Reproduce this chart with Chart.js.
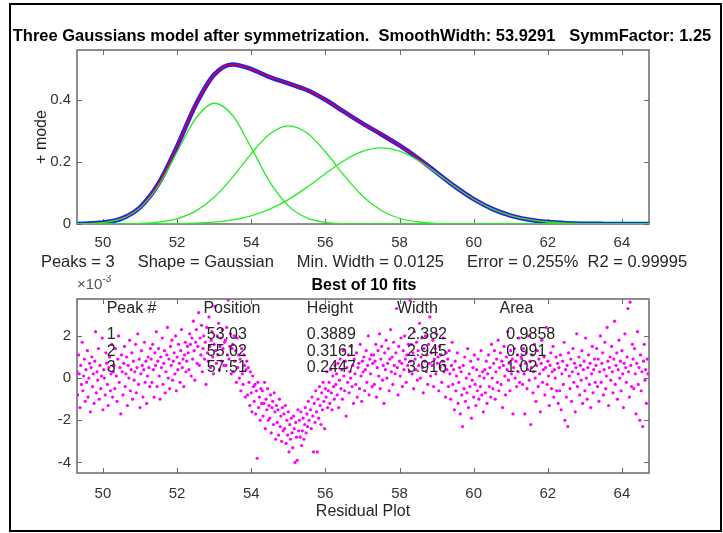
<!DOCTYPE html>
<html>
<head>
<meta charset="utf-8">
<title>Three Gaussians model</title>
<script src="https://cdn.jsdelivr.net/npm/chart.js@4.4.1/dist/chart.umd.min.js"></script>
<style>
  body { margin: 0; background: #fff; }
  #wrap { position: relative; width: 723px; height: 533px; overflow: hidden; }
  #topChart { position: absolute; left: 0; top: 0; }
  #resChart { position: absolute; left: 0; top: 275px; }
  #frame { position: absolute; left: 9px; top: 3px; width: 713px; height: 529px;
           border: 2px solid #000; box-sizing: border-box; pointer-events: none; }
</style>
</head>
<body>
<div id="wrap">
  <canvas id="topChart" width="723" height="275"></canvas>
  <canvas id="resChart" width="723" height="258"></canvas>
  <div id="frame"></div>
</div>
<script>
// ---- data ----
const mainTitle = "Three Gaussians model after symmetrization.  SmoothWidth: 53.9291   SymmFactor: 1.25";
const fitSummary = "Peaks = 3     Shape = Gaussian     Min. Width = 0.0125     Error = 0.255%  R2 = 0.99995";
const resTitle = "Best of 10 fits";

const xTicks = [50, 52, 54, 56, 58, 60, 62, 64];
const yTicksTop = [0, 0.2, 0.4];
const yTicksRes = [-4, -2, 0, 2];   // x 10^-3

// sample grid for the model curves
const xGrid = [49, 49.5, 50, 50.5, 51, 51.5, 52, 52.5, 53, 53.5, 54, 54.5, 55, 55.5, 56, 56.5,
  57, 57.5, 58, 58.5, 59, 59.5, 60, 60.5, 61, 61.5, 62, 62.5, 63, 63.5, 64, 64.5, 65];

const peak1 = [0.0001, 0.0009, 0.0044, 0.017, 0.0519, 0.1239, 0.2316, 0.339, 0.3887, 0.3491, 0.2456,
  0.1353, 0.0584, 0.0197, 0.0052, 0.0011, 0.0002, 0, 0, 0, 0, 0, 0, 0, 0, 0, 0, 0, 0, 0, 0, 0, 0];
const peak2 = [0, 0, 0.0001, 0.0005, 0.0018, 0.006, 0.0171, 0.0415, 0.0858, 0.151, 0.2267, 0.2899,
  0.3161, 0.2937, 0.2325, 0.1569, 0.0903, 0.0443, 0.0185, 0.0066, 0.002, 0.0005, 0.0001,
  0, 0, 0, 0, 0, 0, 0, 0, 0, 0];
const peak3 = [0, 0, 0, 0, 0.0001, 0.0004, 0.001, 0.0026, 0.0062, 0.0134, 0.0264, 0.0476, 0.0783,
  0.1179, 0.162, 0.2035, 0.2335, 0.2447, 0.2343, 0.205, 0.1638, 0.1196, 0.0798, 0.0486, 0.0271,
  0.0138, 0.0064, 0.0027, 0.0011, 0.0004, 0.0001, 0, 0];
const fitCurve = [0.0001, 0.0009, 0.0045, 0.0175, 0.0538, 0.1303, 0.2497, 0.3831, 0.4807, 0.5135,
  0.4987, 0.4728, 0.4528, 0.4313, 0.3997, 0.3615, 0.324, 0.289, 0.2528, 0.2116, 0.1658, 0.1201,
  0.0799, 0.0486, 0.0271, 0.0138, 0.0064, 0.0027, 0.0011, 0.0004, 0.0001, 0, 0];

// residuals (units of 1e-3), one every 0.02 starting at 49.30
const resStart = 49.3;
const resStep = 0.02;
const residuals = [
  0.3,-0.8,1.1,0.2,-1.4,0.6,-0.3,1.7,-0.6,0.1,0.9,-1.1,0.4,-0.2,1.3,-0.9,0.0,0.7,-1.6,0.5,1.0,-0.4,0.2,-1.2,0.8,2.2,-0.7,0.3,-0.1,1.4,-1.0,0.6,-0.5,0.1,1.9,-1.5,0.4,0.0,-0.8,1.2,0.7,-0.3,-1.3,0.5,1.0,-0.6,0.2,1.6,-0.9,0.3,
  0.6,-0.5,1.4,0.1,-1.1,0.9,2.0,-0.2,0.5,-1.7,1.1,0.3,-0.8,0.7,1.5,-0.4,0.2,1.0,-1.3,0.6,0.0,1.8,-0.6,0.4,1.2,-1.0,0.8,-0.1,0.3,1.6,-0.7,0.5,2.1,-0.3,0.9,-1.4,0.2,1.3,0.6,-0.9,0.4,1.7,-0.2,0.8,-1.2,0.1,1.0,0.5,-0.4,1.4,
  0.9,-0.2,1.6,0.4,-0.9,1.2,0.6,2.2,-0.4,0.8,1.4,0.1,-1.0,1.0,0.5,1.9,-0.3,0.7,1.3,-0.7,0.3,1.1,2.4,0.0,0.9,-0.5,1.5,0.6,1.8,-0.1,0.8,1.2,0.2,2.0,-0.6,1.0,0.4,1.6,0.7,-0.2,1.3,2.3,0.5,0.9,-0.4,1.1,1.7,0.3,0.8,1.5,
  1.2,0.4,2.1,1.6,0.1,1.9,0.9,2.7,1.3,-0.1,1.7,2.3,0.7,1.5,3.1,0.6,1.9,1.1,2.5,0.3,1.4,2.0,0.9,1.7,-0.3,2.4,1.2,0.8,2.9,1.5,0.5,1.8,2.2,1.0,0.2,1.6,3.4,1.3,0.7,2.0,1.1,2.6,0.4,1.5,1.9,0.8,2.3,1.4,0.6,1.7,
  1.8,0.6,2.4,1.1,3.7,0.9,1.5,2.1,0.2,1.4,1.6,0.3,2.0,0.8,1.3,-0.2,1.9,0.5,1.1,0.0,0.9,-0.6,1.4,0.2,-0.3,1.1,0.6,-0.9,0.4,0.8,-0.8,0.5,-0.2,-1.3,0.3,-0.7,-1.6,0.1,-0.4,-1.1,-0.3,-1.7,-0.6,-3.8,-0.2,-1.4,-0.9,-2.0,-0.5,-1.2,
  -0.6,-1.8,-1.2,-0.2,-2.4,-1.0,-1.5,-0.5,-2.0,-1.3,-1.9,-0.8,-2.6,-1.4,-1.1,-2.2,-0.7,-1.6,-2.9,-1.3,-2.1,-1.5,-2.7,-1.0,-2.3,-1.8,-3.0,-1.4,-2.5,-1.7,-2.4,-1.3,-3.1,-2.0,-2.7,-1.6,-3.5,-2.2,-2.9,-1.9,-2.6,-3.3,-1.8,-2.4,-4.0,-2.1,-2.8,-3.9,-1.5,-2.5,
  -2.0,-2.8,-1.6,-3.2,-2.5,-1.9,-2.9,-2.2,-1.4,-2.6,-1.7,-2.3,-1.1,-2.0,-4.6,-1.5,-2.4,-0.9,-1.8,-3.5,-1.2,-2.1,-0.6,-1.6,-3.5,-1.0,-1.9,-0.4,-1.3,-2.2,-0.7,-1.5,-0.2,-1.1,-2.4,-0.5,-0.9,0.3,-1.4,-0.6,-0.2,-1.2,0.4,-0.7,-1.5,0.1,-0.4,-1.0,0.6,-0.3,
  0.2,-0.8,0.7,-1.4,-0.1,0.9,-0.5,0.4,-1.0,1.3,0.1,-0.6,0.8,-1.8,0.5,-0.2,1.1,-0.7,0.3,0.0,1.5,-0.4,0.6,-1.2,0.9,0.2,-0.3,1.2,-0.9,0.5,0.7,-0.5,1.6,0.1,-1.1,0.8,0.3,1.0,-0.6,0.4,1.3,-0.2,0.6,2.0,-0.8,0.9,0.2,1.1,-0.4,0.7,
  1.1,-0.3,0.8,1.6,-0.9,0.5,1.3,0.1,2.1,-0.5,0.9,1.5,-0.1,0.6,-1.2,1.2,0.4,1.8,0.0,0.7,1.4,-0.6,0.9,2.3,0.3,1.0,-0.3,1.7,0.6,0.2,1.2,3.3,0.5,-0.8,1.5,0.8,0.1,1.9,0.7,-0.4,1.3,0.4,2.0,0.9,-0.2,1.1,0.6,1.6,0.3,3.7,
  0.8,1.6,0.2,1.2,-0.5,2.2,0.9,0.4,1.7,-0.1,1.3,0.6,2.6,0.0,1.0,1.9,0.5,-0.7,1.4,0.8,2.0,0.3,1.1,-0.3,1.6,0.7,2.9,0.1,1.2,0.6,1.8,-0.4,0.9,1.4,0.2,2.1,0.7,1.0,-0.6,1.5,0.5,1.1,-0.2,0.8,1.9,0.3,0.6,-0.9,1.2,0.4,
  0.9,-0.4,1.3,0.2,-1.0,0.6,1.7,-0.3,0.4,-1.5,0.8,-0.6,0.1,1.2,-1.2,-0.2,0.5,-1.7,0.3,-0.8,-2.3,0.6,-0.5,1.0,-1.1,0.0,-0.7,1.4,-1.4,0.2,-0.4,0.8,-1.9,-0.1,0.5,-0.9,1.1,-0.3,-1.3,0.4,-0.6,0.9,-1.0,0.1,-0.4,1.3,-0.8,0.3,-1.6,0.0,
  0.4,-0.7,0.8,-1.2,0.2,1.1,-0.4,0.5,-0.9,1.6,0.0,-0.5,0.7,1.3,-1.0,0.3,0.9,-0.2,1.8,-0.6,0.5,1.2,-0.3,0.8,-1.4,0.6,1.5,0.1,-0.8,1.0,0.4,2.2,-0.1,0.7,-0.6,1.3,0.2,0.9,-1.7,0.5,1.4,0.0,0.8,-0.4,1.1,0.3,1.9,-0.2,0.6,1.0,
  0.9,-0.3,1.4,0.2,-1.7,0.7,1.2,-0.5,0.4,2.0,-0.1,0.8,-2.2,0.5,1.1,-0.7,0.3,1.6,0.0,-1.1,0.6,1.3,-0.4,0.9,0.2,-1.6,0.7,1.8,-0.2,0.4,1.0,-0.8,0.5,2.4,-0.3,0.8,0.1,-1.3,0.6,1.2,-0.5,0.3,1.5,-0.9,0.4,0.0,1.0,-0.6,0.7,-1.2,
  0.5,-0.6,1.1,-1.5,0.2,0.8,-0.3,1.7,-2.0,0.4,-0.9,0.6,-2.3,1.2,0.1,-0.5,0.9,-1.1,0.3,1.4,-0.2,0.7,-1.6,0.5,2.1,-0.4,0.2,1.0,-0.8,0.6,-0.1,1.3,-1.2,0.4,0.8,-0.6,1.9,0.0,-1.0,0.5,1.1,-0.3,0.7,-1.4,0.2,1.5,-0.7,0.4,0.9,-0.2,
  0.6,1.4,-0.4,0.9,-1.1,0.3,2.0,-0.2,0.7,1.2,-0.8,0.4,1.7,-0.5,0.1,2.4,0.8,-1.3,0.5,1.0,-0.1,1.5,0.3,-0.7,0.9,2.7,-0.3,0.6,1.2,-1.0,0.4,1.8,0.0,0.8,-0.6,1.3,0.2,-1.4,0.7,2.1,0.5,-0.2,1.0,3.3,0.3,-0.9,3.6,0.6,-0.4,1.6,
  0.9,-0.5,1.4,0.2,-1.7,0.7,2.2,-0.3,0.5,-2.0,1.1,-0.6,0.3,-2.3,0.8,1.6,-0.1,0.4,-1.2,0.9,0.2
];

// table of fitted peaks
const tableHeaders = ["Peak #", "Position", "Height", "Width", "Area"];
const peakNums = ["1", "2", "3"];
const positions = ["53.03", "55.02", "57.51"];
const heights = ["0.3889", "0.3161", "0.2447"];
const widths = ["2.382", "2.945", "3.916"];
const areas = ["0.9858", "0.991", "1.02"];

// ---- styling ----
Chart.defaults.font.family = '"Liberation Sans", Arial, Helvetica, sans-serif';
const axisColor = "#6a6a6a";
const labelColor = "#333333";

function pts(xs, ys) {
  return xs.map((x, i) => ({ x: x, y: ys[i] }));
}

// MATLAB style box with inward ticks
const boxAxes = {
  id: "boxAxes",
  beforeDatasetsDraw(chart) {
    const { ctx, chartArea: a, scales } = chart;
    const x = scales.x, y = scales.y;
    ctx.save();
    ctx.strokeStyle = axisColor;
    ctx.lineWidth = 1;
    ctx.beginPath();
    x.ticks.forEach(t => {
      const px = Math.round(x.getPixelForValue(t.value)) + 0.5;
      ctx.moveTo(px, a.bottom); ctx.lineTo(px, a.bottom - 5);
      ctx.moveTo(px, a.top); ctx.lineTo(px, a.top + 5);
    });
    y.ticks.forEach(t => {
      const py = Math.round(y.getPixelForValue(t.value)) + 0.5;
      ctx.moveTo(a.left, py); ctx.lineTo(a.left + 5, py);
      ctx.moveTo(a.right, py); ctx.lineTo(a.right - 5, py);
    });
    ctx.stroke();
    ctx.lineWidth = 1.5;
    ctx.strokeRect(a.left, a.top, a.right - a.left, a.bottom - a.top);
    ctx.restore();
  }
};

// fit summary line under the top plot (wider than the axes, so drawn by hand)
const summaryLine = {
  id: "summaryLine",
  afterDraw(chart) {
    const { ctx, chartArea: a } = chart;
    ctx.save();
    ctx.font = '16.5px "Liberation Sans", Arial, sans-serif';
    ctx.fillStyle = "#262626";
    ctx.textAlign = "center";
    ctx.textBaseline = "middle";
    ctx.fillText(fitSummary, (a.left + a.right) / 2 + 1, a.bottom + 38);
    ctx.restore();
  }
};

// peak table + exponent label inside residual plot
const tableCols = { head: [50.1, 52.71, 55.5, 57.93, 60.7], vals: [50.1, 52.8, 55.5, 58.2, 60.88] };
const tableRows = { head: 3.3, vals: [2.07, 1.28, 0.49] };
const peakTable = {
  id: "peakTable",
  afterDatasetsDraw(chart) {
    const { ctx, chartArea: a, scales } = chart;
    const x = scales.x, y = scales.y;
    ctx.save();
    ctx.font = '16px "Liberation Sans", Arial, sans-serif';
    ctx.fillStyle = "#262626";
    ctx.textBaseline = "middle";
    ctx.textAlign = "left";
    tableHeaders.forEach((h, i) => {
      ctx.fillText(h, x.getPixelForValue(tableCols.head[i]), y.getPixelForValue(tableRows.head));
    });
    const cols = [peakNums, positions, heights, widths, areas];
    cols.forEach((col, c) => {
      col.forEach((txt, r) => {
        ctx.fillText(txt, x.getPixelForValue(tableCols.vals[c]), y.getPixelForValue(tableRows.vals[r]));
      });
    });
    // x10^-3 exponent
    ctx.fillStyle = "#555";
    ctx.textBaseline = "alphabetic";
    ctx.font = '15px "Liberation Sans", Arial, sans-serif';
    ctx.fillText("\u00d710", a.left, a.top - 10);
    const w = ctx.measureText("\u00d710").width;
    ctx.font = '10px "Liberation Sans", Arial, sans-serif';
    ctx.fillText("-3", a.left + w, a.top - 17);
    ctx.restore();
  }
};

function xScale(titleText, titlePadBottom, height, tickPad) {
  return {
    type: "linear",
    position: "bottom",
    min: 49.3,
    max: 64.73,
    afterBuildTicks: s => { s.ticks = xTicks.map(v => ({ value: v })); },
    afterFit: s => { s.height = height; },
    grid: { display: false, drawTicks: false },
    border: { display: false },
    ticks: { color: labelColor, font: { size: 15 }, padding: tickPad, maxRotation: 0, autoSkip: false },
    title: { display: !!titleText, text: titleText || "", color: "#262626", font: { size: 16 },
             padding: { top: 0, bottom: titlePadBottom } }
  };
}

function spacerAxis() {
  return {
    position: "right",
    display: true,
    grid: { display: false, drawTicks: false },
    border: { display: false },
    ticks: { display: false },
    afterFit: s => { s.width = 74; }
  };
}

// ---- top plot: data, fit and components ----
new Chart(document.getElementById("topChart"), {
  type: "line",
  data: {
    datasets: [
      { data: pts(xGrid, peak1), borderColor: "#22ee22", borderWidth: 1.3, order: 0 },
      { data: pts(xGrid, peak2), borderColor: "#22ee22", borderWidth: 1.3, order: 0 },
      { data: pts(xGrid, peak3), borderColor: "#22ee22", borderWidth: 1.3, order: 0 },
      { data: pts(xGrid, fitCurve), borderColor: "#e0001a", borderWidth: 1.5, order: 1 },
      { data: pts(xGrid, fitCurve), borderColor: "#2020ff", borderWidth: 4.5, order: 2 }
    ]
  },
  options: {
    responsive: false,
    animation: false,
    events: [],
    layout: { padding: { left: 1, right: 0, top: 0, bottom: 0 } },
    elements: {
      point: { radius: 0 },
      line: { cubicInterpolationMode: "monotone", fill: false }
    },
    plugins: {
      legend: { display: false },
      tooltip: { enabled: false },
      title: {
        display: true, text: mainTitle, color: "#000",
        font: { size: 16.5, weight: "bold" },
        padding: { top: 27, bottom: 3.2 }
      }
    },
    scales: {
      x: xScale(null, 0, 51, 9.5),
      y: {
        min: 0, max: 0.56,
        afterBuildTicks: s => { s.ticks = yTicksTop.map(v => ({ value: v })); },
        afterFit: s => { s.width = 76; },
        grid: { display: false, drawTicks: false },
        border: { display: false },
        ticks: { color: labelColor, font: { size: 15 }, padding: 6, callback: v => String(v) },
        title: { display: true, text: "+ mode", color: "#262626", font: { size: 16 },
                 padding: { top: 31, bottom: 0 } }
      },
      yR: spacerAxis()
    }
  },
  plugins: [boxAxes, summaryLine]
});

// ---- residual plot ----
new Chart(document.getElementById("resChart"), {
  type: "scatter",
  data: {
    datasets: [{
      data: residuals.map((v, i) => ({ x: +(resStart + i * resStep).toFixed(2), y: v })),
      backgroundColor: "#ff00ff",
      borderWidth: 0,
      pointRadius: 1.6,
      pointStyle: "circle"
    }]
  },
  options: {
    responsive: false,
    animation: false,
    events: [],
    layout: { padding: { left: 5, right: 0, top: 0, bottom: 0 } },
    plugins: {
      legend: { display: false },
      tooltip: { enabled: false },
      title: {
        display: true, text: resTitle, color: "#000",
        font: { size: 16, weight: "bold" },
        padding: { top: 1.4, bottom: 3.4 }
      }
    },
    scales: {
      x: xScale("Residual Plot", 11.4, 60, 12),
      y: {
        min: -4.5, max: 3.75,
        afterBuildTicks: s => { s.ticks = yTicksRes.map(v => ({ value: v })); },
        afterFit: s => { s.width = 72; },
        grid: { display: false, drawTicks: false },
        border: { display: false },
        ticks: { color: labelColor, font: { size: 15 }, padding: 6, callback: v => String(v) }
      },
      yR: spacerAxis()
    }
  },
  plugins: [boxAxes, peakTable]
});
</script>
</body>
</html>
